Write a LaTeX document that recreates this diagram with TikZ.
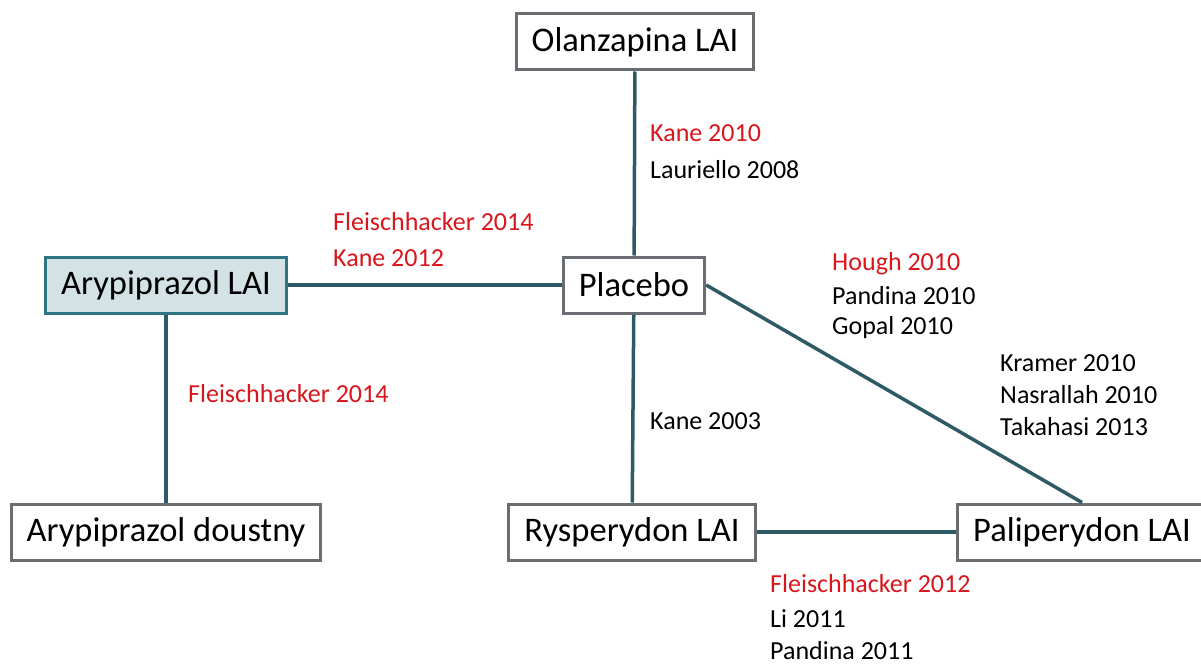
\documentclass[tikz,border=0pt]{standalone}
\usepackage{fontspec}
\setmainfont{Carlito}
\usepackage{tikz}
\usetikzlibrary{positioning}
\definecolor{boxline}{HTML}{6A6D72}
\definecolor{edgeline}{HTML}{2E5A66}
\definecolor{refred}{HTML}{D8161C}
\definecolor{arifill}{HTML}{D2E2E5}
\definecolor{ariline}{HTML}{2F7682}

\begin{document}
\begin{tikzpicture} [x=1pt, y=-1pt,
  drug/.style = {draw=boxline, line width=3pt, fill=white, minimum height=56pt, inner xsep=15.5pt, font=\fontsize{34.5}{38}\selectfont},
  ref/.style = {anchor=west, inner sep=0pt, font=\fontsize{26}{30}\selectfont},
  new/.style = {ref, text=refred},
  link/.style = {draw=edgeline, line width=3.5pt}]
\useasboundingbox (0,0) rectangle (1201,666);
% trials
\node[drug](ola) at (635,42){Olanzapina LAI};
\node[drug](plc) at (634,285){Placebo};
\node[drug, fill=arifill, draw=ariline](ari) at (166,285){Arypiprazol LAI};
\node[drug](ard) at (166,532){Arypiprazol doustny};
\node[drug](rys) at (632,532){Rysperydon LAI};
\node[drug](pal) at (1082,532){Paliperydon LAI};
% connections
\draw[link] (ola) -- (plc);
\draw[link] (ari) -- (plc);
\draw[link] (ari) -- (ard);
\draw[link] (plc) -- (rys);
\draw[link] (rys) -- (pal);
\draw[link] (plc.east) -- (pal.north);
% study labels
\node[new](k10) at (650,133){Kane 2010};
\node[ref](l08) at (650,170){Lauriello 2008};
\node[new](f14a) at (333,222){Fleischhacker 2014};
\node[new](k12) at (333,258){Kane 2012};
\node[new](h10) at (832,264){Hough 2010};
\node[ref](p10) at (832,296){Pandina 2010};
\node[ref](g10) at (832,328){Gopal 2010};
\node[ref](kr10) at (1000,363){Kramer 2010};
\node[ref](n10) at (1000,395){Nasrallah 2010};
\node[ref](t13) at (1000,427){Takahasi 2013};
\node[new](f14b) at (188,394){Fleischhacker 2014};
\node[ref](k03) at (650,421){Kane 2003};
\node[new](f12) at (770,584){Fleischhacker 2012};
\node[ref](li11) at (770,619){Li 2011};
\node[ref](p11) at (770,651){Pandina 2011};
\end{tikzpicture}
\end{document}
